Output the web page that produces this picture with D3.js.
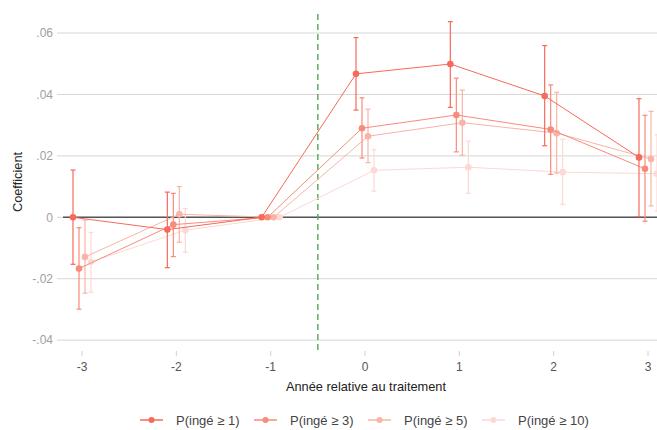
<!DOCTYPE html>
<html><head><meta charset="utf-8">
<script src="https://cdn.jsdelivr.net/npm/d3@7"></script>
<style>body{margin:0;background:#fff}svg{display:block;font-family:"Liberation Sans",Arial,sans-serif}</style>
</head><body><svg id="c" width="657" height="430"></svg>
<script>
const years = [-3, -2, -1, 0, 1, 2, 3];
const seriesNames = ["P(ingé ≥ 1)", "P(ingé ≥ 3)", "P(ingé ≥ 5)", "P(ingé ≥ 10)"];
const colors = ["#f6695b", "#f88b7c", "#fab3a6", "#fcd9d4"];
const coef1 = [0.0000, -0.0040, 0, 0.0467, 0.0499, 0.0395, 0.0195];
const lo1   = [-0.0153, -0.0164, 0, 0.0349, 0.0358, 0.0233, 0.0002];
const hi1   = [0.0154, 0.0082, 0, 0.0585, 0.0637, 0.0559, 0.0386];
const coef2 = [-0.0167, -0.0024, 0, 0.0290, 0.0333, 0.0286, 0.0158];
const lo2   = [-0.0299, -0.0128, 0, 0.0193, 0.0213, 0.0140, -0.0013];
const hi2   = [-0.0034, 0.0078, 0, 0.0389, 0.0453, 0.0431, 0.0332];
const coef3 = [-0.0129, 0.0010, 0, 0.0264, 0.0308, 0.0274, 0.0190];
const lo3   = [-0.0247, -0.0081, 0, 0.0178, 0.0202, 0.0144, 0.0037];
const hi3   = [-0.0009, 0.0100, 0, 0.0352, 0.0414, 0.0407, 0.0345];
const coef4 = [-0.0145, -0.0042, 0, 0.0153, 0.0163, 0.0147, 0.0142];
const lo4   = [-0.0244, -0.0114, 0, 0.0085, 0.0078, 0.0042, 0.0020];
const hi4   = [-0.0049, 0.0028, 0, 0.0220, 0.0248, 0.0254, 0.0269];
const yTicks = [-0.04, -0.02, 0, 0.02, 0.04, 0.06];
const yTickLabels = ["-.04", "-.02", "0", ".02", ".04", ".06"];

const series = [
  {name: seriesNames[0], coef: coef1, lo: lo1, hi: hi1},
  {name: seriesNames[1], coef: coef2, lo: lo2, hi: hi2},
  {name: seriesNames[2], coef: coef3, lo: lo3, hi: hi3},
  {name: seriesNames[3], coef: coef4, lo: lo4, hi: hi4}
];

const svg = d3.select("#c");
const plotL = 57, plotR = 657, plotT = 14, plotB = 352;
const x = d3.scaleLinear().domain([-3, 3]).range([82, 648]);
const y = d3.scaleLinear().domain([0, 0.06]).range([217.3, 33]);
const dodge = [-9, -3, 3, 9];

svg.append("g").selectAll("line").data(yTicks).join("line")
  .attr("x1", plotL).attr("x2", plotR)
  .attr("y1", d => y(d)).attr("y2", d => y(d))
  .attr("stroke", "#d6d6d6").attr("stroke-width", 1);

svg.append("g").selectAll("text").data(yTicks).join("text")
  .attr("x", 53).attr("y", d => y(d)).attr("dy", "0.35em")
  .attr("text-anchor", "end").attr("fill", "#a0a0a0").attr("font-size", 12)
  .text((d, i) => yTickLabels[i]);

const xg = svg.append("g");
xg.selectAll("line").data(years).join("line")
  .attr("x1", d => x(d)).attr("x2", d => x(d))
  .attr("y1", 351).attr("y2", 356)
  .attr("stroke", "#d0d0d0");
xg.selectAll("text").data(years).join("text")
  .attr("x", d => x(d)).attr("y", 371)
  .attr("text-anchor", "middle").attr("fill", "#555").attr("font-size", 12)
  .text(d => d);

svg.append("line").attr("x1", 63).attr("x2", plotR).attr("y1", y(0)).attr("y2", y(0))
  .attr("stroke", "#555").attr("stroke-width", 1.5);

svg.append("line").attr("x1", x(-0.5)).attr("x2", x(-0.5)).attr("y1", plotT).attr("y2", plotB)
  .attr("stroke", "#5cae5c").attr("stroke-width", 1.5).attr("stroke-dasharray", "6,4");

for (let s = series.length - 1; s >= 0; s--) {
  const ser = series[s];
  const g = svg.append("g");
  const pts = years.map((yr, i) => ({px: x(yr) + dodge[s], c: ser.coef[i], lo: ser.lo[i], hi: ser.hi[i]}));
  const line = d3.line().x(d => d.px).y(d => y(d.c));
  g.append("path").attr("d", line(pts)).attr("fill", "none")
    .attr("stroke", colors[s]).attr("stroke-width", 1);
  const eb = g.selectAll("g.eb").data(pts.filter(d => d.hi !== d.lo)).join("g");
  eb.append("line").attr("x1", d => d.px).attr("x2", d => d.px)
    .attr("y1", d => y(d.lo)).attr("y2", d => y(d.hi))
    .attr("stroke", colors[s]).attr("stroke-width", 1.2);
  eb.append("line").attr("x1", d => d.px - 2.5).attr("x2", d => d.px + 2.5)
    .attr("y1", d => y(d.lo)).attr("y2", d => y(d.lo))
    .attr("stroke", colors[s]).attr("stroke-width", 1.2);
  eb.append("line").attr("x1", d => d.px - 2.5).attr("x2", d => d.px + 2.5)
    .attr("y1", d => y(d.hi)).attr("y2", d => y(d.hi))
    .attr("stroke", colors[s]).attr("stroke-width", 1.2);
  g.selectAll("circle").data(pts).join("circle")
    .attr("cx", d => d.px).attr("cy", d => y(d.c)).attr("r", 3.3)
    .attr("fill", colors[s]);
}

svg.append("text").attr("x", 366).attr("y", 391)
  .attr("text-anchor", "middle").attr("font-size", 12.8).attr("fill", "#222")
  .text("Année relative au traitement");
svg.append("text").attr("transform", `translate(22,182) rotate(-90)`)
  .attr("text-anchor", "middle").attr("font-size", 12.8).attr("fill", "#222")
  .text("Coefficient");

const legX = [140, 254, 368, 482];
const lg = svg.append("g");
seriesNames.forEach((n, i) => {
  const gx = legX[i], gy = 420;
  lg.append("line").attr("x1", gx).attr("x2", gx + 23).attr("y1", gy).attr("y2", gy)
    .attr("stroke", colors[i]).attr("stroke-width", 1.5);
  lg.append("circle").attr("cx", gx + 11.5).attr("cy", gy).attr("r", 3).attr("fill", colors[i]);
  lg.append("text").attr("x", gx + 36).attr("y", gy).attr("dy", "0.35em")
    .attr("font-size", 13).attr("fill", "#444").text(n);
});
</script></body></html>
